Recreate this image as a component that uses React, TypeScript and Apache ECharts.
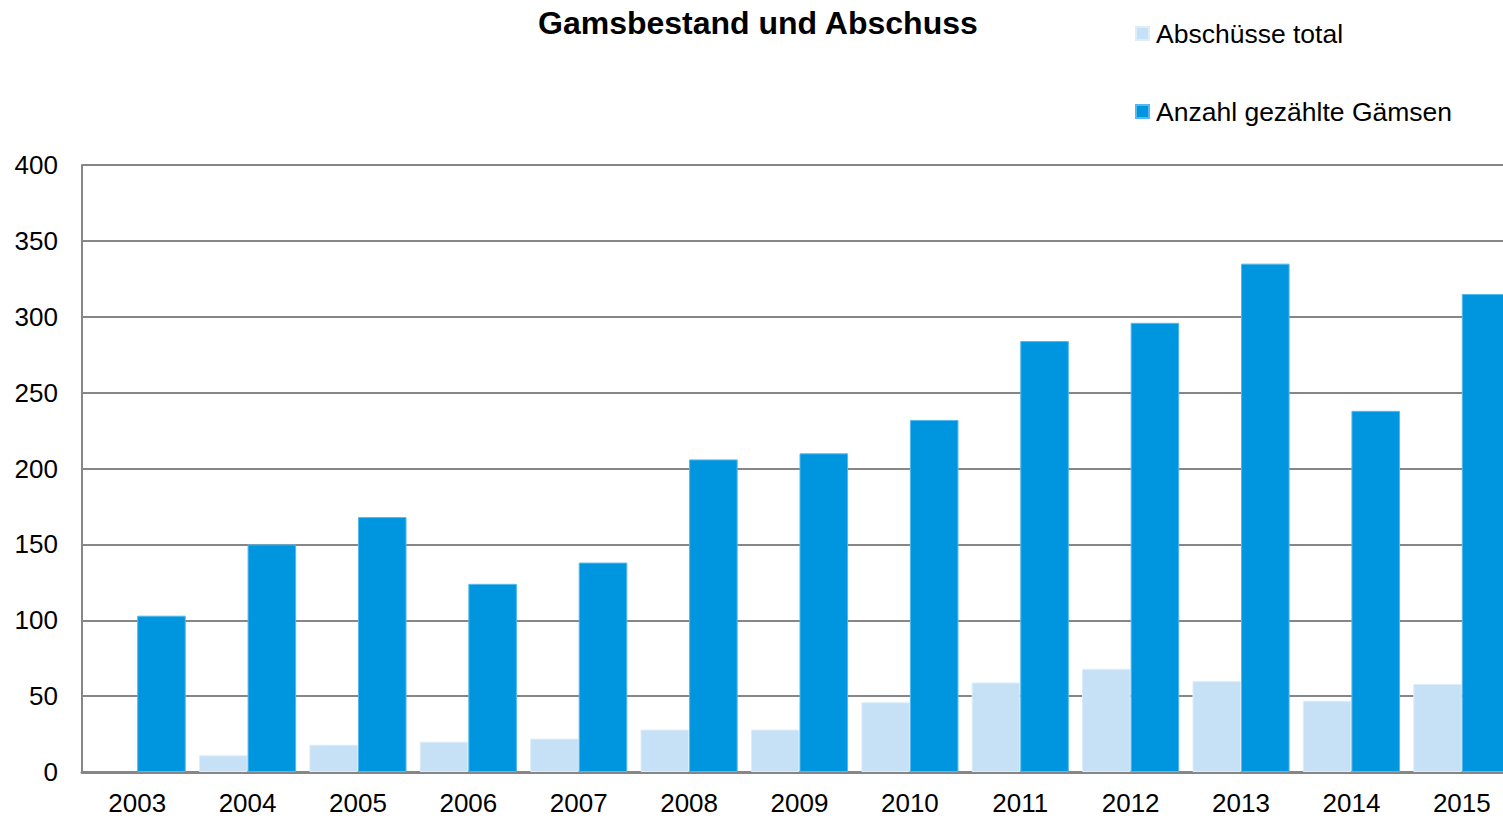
import React, { useEffect, useRef } from "react";
import * as echarts from "echarts";

const years = ["2003", "2004", "2005", "2006", "2007", "2008", "2009", "2010", "2011", "2012", "2013", "2014", "2015"];
const abschuesse: (number | string)[] = ["-", 11, 18, 20, 22, 28, 28, 46, 59, 68, 60, 47, 58];
const gezaehlt = [103, 150, 168, 124, 138, 206, 210, 232, 284, 296, 335, 238, 315];
const yTicks = [0, 50, 100, 150, 200, 250, 300, 350, 400];

export default function App() {
  const ref = useRef<HTMLDivElement>(null);
  useEffect(() => {
    if (!ref.current) return;
    const chart = echarts.init(ref.current, undefined, { renderer: "svg" });
    const font = "Liberation Sans, Arial, sans-serif";
    chart.setOption({
      animation: false,
      backgroundColor: "#ffffff",
      title: {
        text: "Gamsbestand und Abschuss",
        left: 533,
        top: 2,
        textStyle: { fontFamily: font, fontSize: 32, fontWeight: "bold", color: "#000" },
      },
      legend: {
        orient: "vertical",
        left: 1130,
        top: 15,
        itemWidth: 13,
        itemHeight: 13,
        itemGap: 51,
        icon: "rect",
        textStyle: { fontFamily: font, fontSize: 26.5, color: "#000", padding: [0, 0, 0, 2] },
        data: ["Abschüsse total", "Anzahl gezählte Gämsen"],
      },
      grid: {
        left: 82,
        width: 1435,
        top: 165,
        bottom: 46,
        containLabel: false,
        outerBoundsMode: "none",
      },
      xAxis: {
        type: "category",
        data: years,
        axisLine: { show: true, lineStyle: { color: "#868686", width: 3 } },
        axisTick: { show: false },
        axisLabel: { fontFamily: font, fontSize: 26, color: "#000", margin: 18 },
      },
      yAxis: {
        type: "value",
        min: 0,
        max: 400,
        interval: 50,
        axisLine: { show: true, lineStyle: { color: "#868686", width: 2 } },
        axisTick: { show: false },
        splitLine: { show: true, lineStyle: { color: "#868686", width: 2 } },
        axisLabel: {
          fontFamily: font,
          fontSize: 26,
          color: "#000",
          margin: 24,
          formatter: (v: number) => (yTicks.includes(v) ? String(v) : ""),
        },
      },
      series: [
        {
          name: "Abschüsse total",
          type: "bar",
          data: abschuesse,
          barGap: "0%",
          barCategoryGap: "12%",
          itemStyle: { color: "#c6e1f5", borderColor: "#ddeefa", borderWidth: 1 },
        },
        {
          name: "Anzahl gezählte Gämsen",
          type: "bar",
          data: gezaehlt,
          barGap: "0%",
          barCategoryGap: "12%",
          itemStyle: { color: "#0096df", borderColor: "#55b8ee", borderWidth: 1 },
        },
      ],
    });
    return () => chart.dispose();
  }, []);
  return <div ref={ref} style={{ position: "fixed", left: 0, top: 0, width: 1503, height: 818 }} />;
}
